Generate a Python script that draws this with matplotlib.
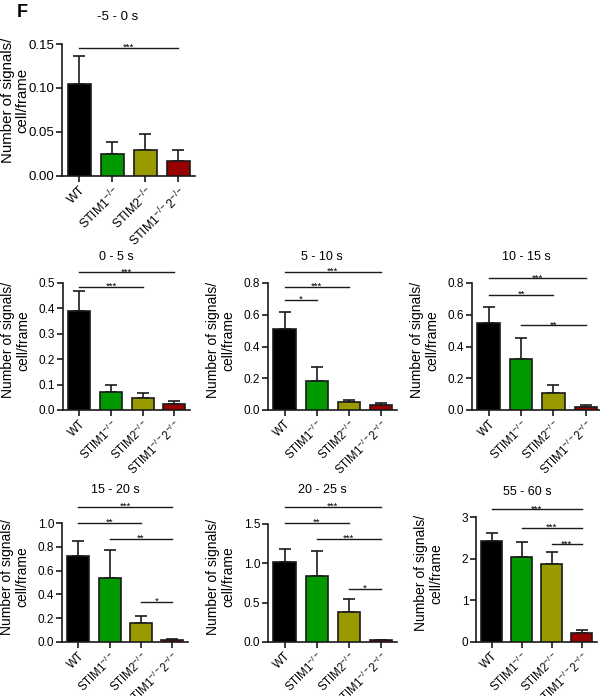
import matplotlib
matplotlib.use('Agg')
import matplotlib.pyplot as plt
import matplotlib.transforms as mtransforms

plt.rcParams['font.family'] = ['Liberation Sans', 'DejaVu Sans']
plt.rcParams['mathtext.fontset'] = 'custom'
plt.rcParams['mathtext.rm'] = 'Liberation Sans'
plt.rcParams['mathtext.it'] = 'Liberation Sans'

groups = ['WT', r'STIM1$^{-/-}$', r'STIM2$^{-/-}$', r'STIM1$^{-/-}$2$^{-/-}$']
colors = ['#000000', '#009900', '#999900', '#990000']

titles = ['-5 - 0 s', '0 - 5 s', '5 - 10 s', '10 - 15 s',
          '15 - 20 s', '20 - 25 s', '55 - 60 s']

means = [
    [0.104, 0.025, 0.030, 0.017],
    [0.39, 0.070, 0.046, 0.022],
    [0.51, 0.180, 0.048, 0.030],
    [0.545, 0.32, 0.11, 0.020],
    [0.72, 0.54, 0.16, 0.015],
    [1.02, 0.84, 0.38, 0.020],
    [2.42, 2.03, 1.87, 0.22],
]
sems = [
    [0.032, 0.014, 0.018, 0.013],
    [0.080, 0.028, 0.022, 0.013],
    [0.110, 0.090, 0.014, 0.017],
    [0.105, 0.135, 0.050, 0.013],
    [0.125, 0.235, 0.055, 0.012],
    [0.160, 0.320, 0.165, 0.010],
    [0.20, 0.37, 0.28, 0.08],
]

yticks = [
    [0.00, 0.05, 0.10, 0.15],
    [0.0, 0.1, 0.2, 0.3, 0.4, 0.5],
    [0.0, 0.2, 0.4, 0.6, 0.8],
    [0.0, 0.2, 0.4, 0.6, 0.8],
    [0.0, 0.2, 0.4, 0.6, 0.8, 1.0],
    [0.0, 0.5, 1.0, 1.5],
    [0, 1, 2, 3],
]
yfmt = ['%.2f', '%.1f', '%.1f', '%.1f', '%.1f', '%.1f', '%d']

# significance bars: (from group, to group, label, height in data units)
sig = [
    [(0, 3, '***', 0.1455)],
    [(0, 3, '***', 0.543), (0, 2, '***', 0.484)],
    [(0, 3, '***', 0.869), (0, 2, '***', 0.775), (0, 1, '*', 0.693)],
    [(0, 3, '***', 0.831), (0, 2, '**', 0.724), (1, 3, '**', 0.535)],
    [(0, 3, '***', 1.134), (0, 2, '**', 1.0), (1, 3, '**', 0.866),
     (2, 3, '*', 0.336)],
    [(0, 3, '***', 1.716), (0, 2, '**', 1.513), (1, 3, '***', 1.309),
     (2, 3, '*', 0.673)],
    [(0, 3, '***', 3.19), (1, 3, '***', 2.74), (2, 3, '***', 2.35)],
]

W, H = 600, 696
# pixel boxes (left, top, right, bottom) and title heights
boxes = [(62, 44, 195, 176),
         (63, 283, 190, 410), (268, 283, 397, 410), (472, 283, 602, 410),
         (62, 523, 188, 642), (268, 524, 397, 642), (476, 517, 597, 642)]
title_y = [17, 257, 257, 257, 490, 490, 492]

fig = plt.figure(figsize=(W / 100, H / 100), dpi=100)

for k in range(7):
    l, t, r, b = boxes[k]
    big = (k == 0)
    ax = fig.add_axes([l / W, 1 - b / H, (r - l) / W, (b - t) / H])
    x = range(4)
    ax.bar(x, means[k], width=0.7, color=colors, edgecolor='#1a1a1a',
           linewidth=1.2, zorder=3)
    ax.errorbar(x, means[k], yerr=[[0] * 4, sems[k]], fmt='none',
                ecolor='#1a1a1a', elinewidth=1.2, capsize=4.5,
                capthick=1.2, zorder=2)
    ax.set_xlim(-0.52, 3.5)
    ax.set_ylim(yticks[k][0], yticks[k][-1])
    ax.set_yticks(yticks[k])
    ax.set_yticklabels([yfmt[k] % v for v in yticks[k]],
                       fontsize=9.5 if big else 8.5)
    ax.set_xticks(list(x))
    ax.set_xticklabels(groups, rotation=45, ha='right',
                       rotation_mode='anchor', fontsize=9 if big else 8.3)
    for s in ['top', 'right']:
        ax.spines[s].set_visible(False)
    for s in ['left', 'bottom']:
        ax.spines[s].set_linewidth(1.2)
        ax.spines[s].set_color('#1a1a1a')
    ax.tick_params(direction='out', length=4, width=1.2, color='#1a1a1a',
                   pad=1.5)
    ax.set_ylabel('Number of signals/\ncell/frame',
                  fontsize=10.8 if big else 10,
                  linespacing=1.0 if big else 1.1)
    ax.yaxis.set_label_coords(-33 / (r - l), 0.575 if big else 0.55)
    off = mtransforms.offset_copy(ax.transData, fig=fig, x=0, y=-3,
                                  units='points')
    for i, j, lab, h in sig[k]:
        ax.plot([i, j], [h, h], color='#1a1a1a', lw=1.0, clip_on=False)
        ax.text((i + j) / 2, h, lab, ha='center', va='bottom', fontsize=6.8,
                transform=off, clip_on=False)
    fig.text((l + 0.42 * (r - l)) / W, 1 - title_y[k] / H, titles[k],
             ha='center', va='center', fontsize=9.5 if big else 9)

fig.text(17 / W, 1 - 17 / H, 'F', fontsize=13, fontweight='bold')

fig.savefig('out.png', dpi=100)
